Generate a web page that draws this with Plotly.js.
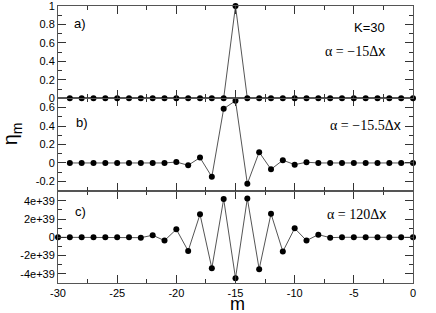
<!DOCTYPE html>
<html>
<head>
<meta charset="utf-8">
<script src="https://cdn.plot.ly/plotly-3.0.1.min.js"></script>
<style>html,body{margin:0;padding:0;background:#fff;}#chart{width:436px;height:313px;}</style>
</head>
<body>
<div id="chart"></div>
<script>
// Data
var mAB = [-29,-28,-27,-26,-25,-24,-23,-22,-21,-20,-19,-18,-17,-16,-15,-14,-13,-12,-11,-10,-9,-8,-7,-6,-5,-4,-3,-2,-1,0];
var mC = [-30,-29,-28,-27,-26,-25,-24,-23,-22,-21,-20,-19,-18,-17,-16,-15,-14,-13,-12,-11,-10,-9,-8,-7,-6,-5,-4,-3,-2,-1,0];
var etaA = [0,0,0,0,0,0,0,0,0,0,0,0,0,0,1,0,0,0,0,0,0,0,0,0,0,0,0,0,0,0];
var etaB = [0,0,0,0,0,0,0,0,0,0.01,-0.025,0.058,-0.15,0.587,0.674,-0.225,0.117,-0.069,0.03,-0.018,0.008,0,0,0,0,0,0,0,0,0];
var etaC = [0,0,0,0,0,0,0,-0.04e39,0.22e39,-0.36e39,0.87e39,-1.49e39,2.51e39,-3.38e39,4.18e39,-4.47e39,4.25e39,-3.49e39,2.58e39,-1.56e39,0.98e39,-0.36e39,0.29e39,-0.04e39,0,0,0,0,0,0,0];

var xTickVals = [-30,-25,-20,-15,-10,-5,0];
var xTickText = ['-30','-25','-20','-15','-10','-5','0'];
var yATickVals = [0,0.2,0.4,0.6,0.8,1];
var yATickText = ['0','0.2','0.4','0.6','0.8','1'];
var yBTickVals = [-0.2,0,0.2,0.4,0.6];
var yBTickText = ['-0.2','0','0.2','0.4','0.6'];
var yCTickVals = [-4e39,-2e39,0,2e39,4e39];
var yCTickText = ['-4e+39','-2e+39','0','2e+39','4e+39'];

var lineStyle = {color:'#555', width:1};
var markerStyle = {color:'#000', size:6};

function tr(x, y, xa, ya){
  return {x:x, y:y, xaxis:xa, yaxis:ya, type:'scatter', mode:'lines+markers',
    line:lineStyle, marker:markerStyle, cliponaxis:false, showlegend:false, hoverinfo:'none'};
}
var data = [tr(mAB, etaA, 'x3', 'y3'), tr(mAB, etaB, 'x2', 'y2'), tr(mC, etaC, 'x', 'y')];

var tickFont = {family:'Liberation Sans, Arial, sans-serif', size:11, color:'#000'};
function xAxis(anchor, showLabels){
  return {range:[-30,0], anchor:anchor, tickmode:'array', tickvals:xTickVals, ticktext:xTickText,
    showticklabels:showLabels, ticks:'inside', ticklen:8, tickwidth:1, tickcolor:'#333',
    minor:{tickmode:'linear', tick0:0, dtick:2.5, ticks:'inside', ticklen:4, tickcolor:'#333'},
    showline:true, linecolor:'#555', linewidth:1, mirror:'allticks', showgrid:false, zeroline:false,
    tickfont:tickFont, ticklabeloverflow:'allow', fixedrange:true};
}
function yAxis(anchor, dom, rng, tv, tt, minorD){
  return {domain:dom, range:rng, anchor:anchor, tickmode:'array', tickvals:tv, ticktext:tt,
    ticks:'inside', ticklen:8, tickwidth:1, tickcolor:'#333',
    minor:{tickmode:'linear', tick0:0, dtick:minorD, ticks:'inside', ticklen:4, tickcolor:'#333'},
    showline:true, linecolor:'#555', linewidth:1, mirror:'allticks', showgrid:false, zeroline:false,
    tickfont:tickFont, ticklabeloverflow:'allow', fixedrange:true};
}

var serif = "font-family:'Liberation Serif','Times New Roman',serif";
function ann(text, x, y, xanchor, size, extra){
  var a = {text:text, x:x, y:y, xref:'paper', yref:'paper', xanchor:xanchor, yanchor:'middle',
    showarrow:false, font:{family:'Liberation Sans, Arial, sans-serif', size:size, color:'#000'}};
  if (extra) for (var k in extra) a[k] = extra[k];
  return a;
}

var layout = {
  width:436, height:313,
  margin:{l:58, r:22.5, t:5.5, b:29.7},
  paper_bgcolor:'#fff', plot_bgcolor:'#fff',
  xaxis: xAxis('y', true),
  xaxis2: xAxis('y2', false),
  xaxis3: xAxis('y3', false),
  yaxis: yAxis('x', [0, 1/3], [-5e39, 5.1e39], yCTickVals, yCTickText, 1e39),
  yaxis2: yAxis('x2', [1/3, 2/3], [-0.3, 0.7], yBTickVals, yBTickText, 0.1),
  yaxis3: yAxis('x3', [2/3, 1], [0, 1], yATickVals, yATickText, 0.1),
  annotations: [
    ann('a)', 0.040, 0.937, 'left', 13),
    ann('K=30', 0.927, 0.922, 'right', 13),
    ann('<span style="' + serif + '">α = −15Δ</span>x', 0.927, 0.836, 'right', 14),
    ann('b)', 0.045, 0.581, 'left', 13),
    ann('<span style="' + serif + '">α = −15.5Δ</span>x', 0.972, 0.572, 'right', 14),
    ann('c)', 0.042, 0.258, 'left', 13),
    ann('<span style="' + serif + '">α = 120Δ</span>x', 0.930, 0.249, 'right', 14),
    ann('m', 0.506, -0.075, 'center', 18),
    ann('η<sub>m</sub>', -0.13, 0.54, 'center', 20, {textangle:-90})
  ]
};

Plotly.newPlot('chart', data, layout, {staticPlot:true, displayModeBar:false});
</script>
</body>
</html>
